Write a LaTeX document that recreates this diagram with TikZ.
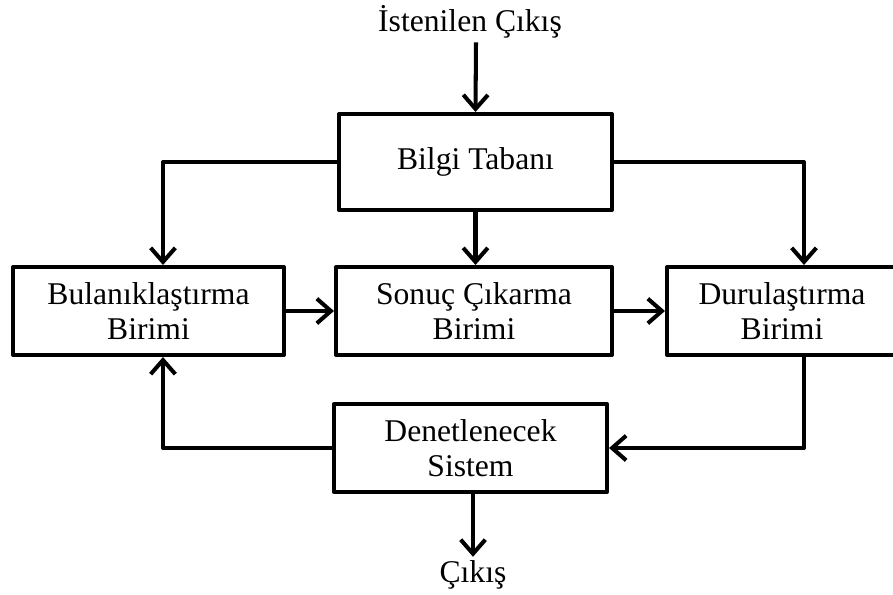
\documentclass[tikz,border=0pt]{standalone}
\usepackage{fontspec}
\setmainfont{Liberation Serif}
\usetikzlibrary{arrows.meta}

\tikzset{
  block/.style={draw,line width=2.3pt,line join=round,align=center,
    minimum height=1.76cm,inner sep=2pt},
  label/.style={inner sep=2pt},
  arr/.style={line width=2.3pt,line join=round,
    -{Straight Barb[length=8pt,width=14pt]}}
}

\begin{document}
\begin{tikzpicture}[font=\fontsize{18}{20}\selectfont]
    % Page frame (893 x 594 px, 1 px = 0.02 cm)
    \useasboundingbox (0,0) rectangle (17.86,-11.88);
    \clip (0,0) rectangle (17.86,-11.88);

    % Reference input
    \node[label] (ist) at (9.40,-0.44) {İstenilen Çıkış};

    % Knowledge base
    \node[block,minimum width=5.46cm,minimum height=1.92cm]
      (bilgi) at (9.51,-3.24) {Bilgi Tabanı};

    % Middle row
    \node[block,minimum width=5.42cm] (bul) at (2.97,-6.22)
      {Bulanıklaştırma\\Birimi};
    \node[block,minimum width=5.52cm] (son) at (9.48,-6.22)
      {Sonuç Çıkarma\\Birimi};
    \node[block,minimum width=4.60cm] (dur) at (15.64,-6.22)
      {Durulaştırma\\Birimi};

    % Plant
    \node[block,minimum width=5.46cm] (den) at (9.41,-8.96)
      {Denetlenecek\\Sistem};

    % Output
    \node[label] (out) at (9.46,-11.50) {Çıkış};

    % Connections
    \draw[arr] (ist.south -| bilgi.north) ++(0.01,0) -- (bilgi.north);
    \draw[arr] (bilgi.west) -| ([xshift=0.29cm]bul.north);
    \draw[arr] (bilgi.east) -| ([xshift=0.44cm]dur.north);
    \draw[arr] (bilgi.south) -- (bilgi.south |- son.north);
    \draw[arr] (bul.east) -- (son.west);
    \draw[arr] (son.east) -- (dur.west);
    \draw[arr] ([xshift=0.44cm]dur.south) |- (den.east);
    \draw[arr] (den.west) -| ([xshift=0.29cm]bul.south);
    \draw[arr] (den.south -| out.north) -- (out.north);
\end{tikzpicture}
\end{document}
